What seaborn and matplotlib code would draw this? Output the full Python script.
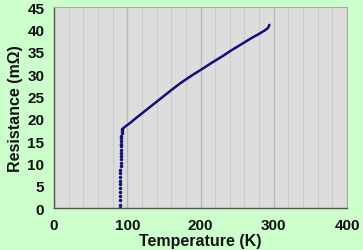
import matplotlib
matplotlib.use("Agg")
import matplotlib.pyplot as plt
import seaborn as sns
import pandas as pd
from matplotlib.ticker import MultipleLocator

sns.set_style("white")
plt.rcParams['font.family'] = ['Liberation Sans', 'DejaVu Sans']

# superconducting transition (discrete dots)
trans_T = [89.6, 89.7, 89.8, 89.9, 90.0, 90.1, 90.2, 90.3, 90.4, 90.5, 90.6, 90.7, 90.8,
           90.9, 91.0, 91.1, 91.2, 91.3, 91.4, 91.6, 91.8, 92.0, 92.3, 92.7, 93.2]
trans_R = [0.0, 0.8, 1.7, 2.6, 3.5, 4.4, 5.3, 6.1, 7.0, 7.8, 8.6, 9.4, 10.2,
           11.0, 11.7, 12.4, 13.1, 13.8, 14.4, 15.0, 15.6, 16.2, 16.8, 17.3, 17.6]

# normal-state curve
norm_T = [93.2, 94, 96, 100, 105, 110, 120, 130, 140, 150, 160, 172, 180, 190, 200,
          217, 230, 240, 250, 263, 270, 280, 288, 292, 294]
norm_R = [17.6, 17.8, 18.1, 18.6, 19.2, 19.9, 21.2, 22.5, 23.8, 25.1, 26.4, 27.9, 28.8,
          29.9, 30.9, 32.7, 34.0, 35.1, 36.1, 37.4, 38.1, 39.0, 39.8, 40.3, 41.0]

x_ticks = [0, 100, 200, 300, 400]
y_ticks = [0, 5, 10, 15, 20, 25, 30, 35, 40, 45]

fig = plt.figure(figsize=(3.63, 2.51), dpi=100, facecolor="#CCFFCC")
ax = fig.add_axes([0.149, 0.167, 0.807, 0.801])
ax.set_facecolor("#DDDDDD")

navy = "#10107A"
sns.lineplot(x=norm_T, y=norm_R, ax=ax, color=navy, linewidth=1.8, sort=False)
sns.scatterplot(x=trans_T, y=trans_R, ax=ax, color=navy, s=5, edgecolor=navy, linewidth=0.3)

ax.set_xlim(0, 400)
ax.set_ylim(0, 45)
ax.set_xticks(x_ticks)
ax.set_yticks(y_ticks)
ax.xaxis.set_minor_locator(MultipleLocator(20))
ax.grid(True, which="major", axis="x", color="#B8B8B8", linewidth=1.0)
ax.grid(True, which="minor", axis="x", color="#CBCBCB", linewidth=0.8)
ax.set_axisbelow(True)
ax.tick_params(axis="x", which="minor", length=0)
ax.tick_params(axis="both", which="major", direction="out", length=3, width=0.8,
               color="#555555", labelsize=11, pad=4, labelcolor="#111111")
for lab in ax.get_xticklabels() + ax.get_yticklabels():
    lab.set_fontweight("bold")

for s in ["left", "bottom"]:
    ax.spines[s].set_color("#555555")
    ax.spines[s].set_linewidth(1.0)
for s in ["top", "right"]:
    ax.spines[s].set_color("#AAAAAA")
    ax.spines[s].set_linewidth(0.8)

ax.set_xlabel("Temperature (K)", fontsize=11.5, fontweight="bold", labelpad=1, color="#111111")
ax.set_ylabel("Resistance (mΩ)", fontsize=11.5, fontweight="bold", labelpad=3, color="#111111")

fig.savefig("out.png", dpi=100, facecolor=fig.get_facecolor())
